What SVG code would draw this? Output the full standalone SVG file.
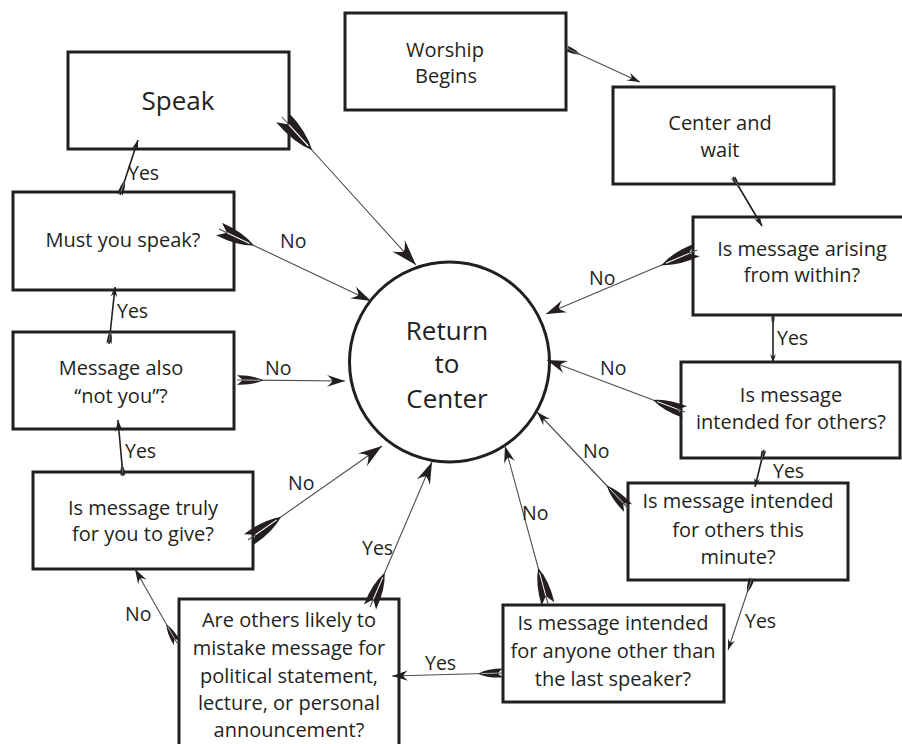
<svg xmlns="http://www.w3.org/2000/svg" xmlns:xlink="http://www.w3.org/1999/xlink" width="902" height="744" viewBox="0 0 902 744">
<style>
.box{fill:#fff;stroke:#231f20;stroke-width:3}
.t{font-family:'Open Sans','Liberation Sans',sans-serif;font-size:20px;fill:#231f20;text-anchor:middle}
.big{font-size:26px}
.lb{font-family:'Open Sans','Liberation Sans',sans-serif;font-size:19.5px;fill:#231f20}
.ln{stroke:#4d4d4d;stroke-width:1.1;fill:none}
.dk{stroke:#231f20;stroke-width:1.6}
.hd{fill:#231f20}
</style>
<defs>
<path id="hd" d="M0,0 L-20,-6.5 Q-15,-2.5 -14,0 Q-15,2.5 -20,6.5 Z"/>
<g id="fl">
<path d="M0,-5.5 L7,0 L0,5.5 Q19,6 31,0 Q19,-6 0,-5.5 Z" fill="#231f20"/>
<path d="M7,0 L27,0" stroke="#ffffff" stroke-width="0.8"/>
</g>
</defs>
<rect width="902" height="744" fill="#fff"/>

<g id="n-speak"><rect class="box" x="68" y="52" width="221" height="97"/><text class="t big" x="178" y="110">Speak</text></g>
<g id="n-worship"><rect class="box" x="345" y="13" width="221" height="97"/><text class="t" x="445" y="57">Worship</text><text class="t" x="446" y="83">Begins</text></g>
<g id="n-centerwait"><rect class="box" x="613" y="87" width="221" height="97"/><text class="t" x="720" y="130">Center and</text><text class="t" x="720" y="157">wait</text></g>
<g id="n-arising"><rect class="box" x="693" y="217" width="220" height="98"/><text class="t" x="802" y="256">Is message arising</text><text class="t" x="802" y="282">from within?</text></g>
<g id="n-others"><rect class="box" x="681" y="362" width="219" height="96"/><text class="t" x="791" y="402">Is message</text><text class="t" x="791" y="429">intended for others?</text></g>
<g id="n-minute"><rect class="box" x="628" y="483" width="220" height="97"/><text class="t" x="738" y="508">Is message intended</text><text class="t" x="738" y="537">for others this</text><text class="t" x="738" y="564">minute?</text></g>
<g id="n-anyone"><rect class="box" x="503" y="605" width="221" height="97"/><text class="t" x="613" y="630">Is message intended</text><text class="t" x="613" y="658">for anyone other than</text><text class="t" x="613" y="686">the last speaker?</text></g>
<g id="n-mistake"><rect class="box" x="179" y="599" width="220" height="160"/><text class="t" x="289" y="627">Are others likely to</text><text class="t" x="289" y="655">mistake message for</text><text class="t" x="289" y="683">political statement,</text><text class="t" x="289" y="710">lecture, or personal</text><text class="t" x="289" y="737">announcement?</text></g>
<g id="n-truly"><rect class="box" x="33" y="472" width="220" height="97"/><text class="t" x="143" y="515">Is message truly</text><text class="t" x="143" y="541">for you to give?</text></g>
<g id="n-notyou"><rect class="box" x="13" y="332" width="221" height="97"/><text class="t" x="121" y="375">Message also</text><text class="t" x="121" y="403">“not you”?</text></g>
<g id="n-must"><rect class="box" x="13" y="192" width="221" height="98"/><text class="t" x="123" y="247">Must you speak?</text></g>
<g id="n-return"><circle cx="449.5" cy="362" r="100" fill="#fff" stroke="#231f20" stroke-width="3"/><text class="t big" x="447" y="340">Return</text><text class="t big" x="447" y="373">to</text><text class="t big" x="447" y="408">Center</text></g>

<g id="connectors">
<line class="ln" x1="566" y1="48" x2="640" y2="82"/><use href="#fl" transform="translate(566,48) rotate(24.7) scale(0.5)"/><use href="#hd" class="hd" transform="translate(640,82) rotate(24.7) scale(0.65)"/>
<line class="ln dk" x1="733" y1="177" x2="762" y2="226"/><use href="#fl" transform="translate(733,177) rotate(59.4) scale(0.4)"/><use href="#hd" class="hd" transform="translate(762,226) rotate(59.4) scale(0.5)"/>
<line class="ln" x1="697" y1="250" x2="546" y2="314"/><use href="#fl" transform="translate(697,250) rotate(157) scale(1.25)"/><use href="#hd" class="hd" transform="translate(546,314) rotate(157) scale(1)"/>
<line class="ln dk" x1="773" y1="316" x2="773" y2="363"/><use href="#fl" transform="translate(773,316) rotate(90) scale(0.3)"/><use href="#hd" class="hd" transform="translate(773,363) rotate(90) scale(0.45)"/>
<line class="ln" x1="685" y1="412" x2="547" y2="360"/><use href="#fl" transform="translate(685,412) rotate(200.6) scale(1.1)"/><use href="#hd" class="hd" transform="translate(547,360) rotate(200.6) scale(1)"/>
<line class="ln dk" x1="764" y1="450" x2="755" y2="487"/><use href="#fl" transform="translate(764,450) rotate(103.7) scale(0.4)"/><use href="#hd" class="hd" transform="translate(755,487) rotate(103.7) scale(0.45)"/>
<line class="ln" x1="628" y1="508" x2="537" y2="412"/><use href="#fl" transform="translate(628,508) rotate(226.5) scale(1)"/><use href="#hd" class="hd" transform="translate(537,412) rotate(226.5) scale(0.7)"/>
<line class="ln" x1="752" y1="578" x2="728" y2="650"/><use href="#fl" transform="translate(752,578) rotate(108.4) scale(0.5)"/><use href="#hd" class="hd" transform="translate(728,650) rotate(108.4) scale(0.55)"/>
<line class="ln" x1="503" y1="673" x2="392" y2="676"/><use href="#fl" transform="translate(503,673) rotate(178.5) scale(0.8)"/><use href="#hd" class="hd" transform="translate(392,676) rotate(178.5) scale(0.8)"/>
<line class="ln" x1="548" y1="604" x2="505" y2="446"/><use href="#fl" transform="translate(548,604) rotate(254.8) scale(1.2)"/><use href="#hd" class="hd" transform="translate(505,446) rotate(254.8) scale(0.85)"/>
<line class="ln" x1="370" y1="607" x2="432" y2="462"/><use href="#fl" transform="translate(370,607) rotate(-66.8) scale(1.2)"/><use href="#hd" class="hd" transform="translate(432,462) rotate(-66.8) scale(1.1)"/>
<line class="ln" x1="177" y1="643" x2="135" y2="569"/><use href="#fl" transform="translate(177,643) rotate(240.4) scale(0.7)"/><use href="#hd" class="hd" transform="translate(135,569) rotate(240.4) scale(0.75)"/>
<line class="ln" x1="248" y1="540" x2="382" y2="446"/><use href="#fl" transform="translate(248,540) rotate(-35) scale(1.3)"/><use href="#hd" class="hd" transform="translate(382,446) rotate(-35) scale(1.2)"/>
<line class="ln dk" x1="123" y1="476" x2="118" y2="420"/><use href="#fl" transform="translate(123,476) rotate(264.9) scale(0.4)"/><use href="#hd" class="hd" transform="translate(118,420) rotate(264.9) scale(0.6)"/>
<line class="ln" x1="237" y1="380" x2="345" y2="381"/><use href="#fl" transform="translate(237,380) rotate(0.5) scale(0.85)"/><use href="#hd" class="hd" transform="translate(345,381) rotate(0.5) scale(0.9)"/>
<line class="ln dk" x1="109" y1="344" x2="115" y2="287"/><use href="#fl" transform="translate(109,344) rotate(-84) scale(0.45)"/><use href="#hd" class="hd" transform="translate(115,287) rotate(-84) scale(0.5)"/>
<line class="ln" x1="219" y1="229" x2="371" y2="301"/><use href="#fl" transform="translate(219,229) rotate(25.35) scale(1.25)"/><use href="#hd" class="hd" transform="translate(371,301) rotate(25.35) scale(1)"/>
<line class="ln dk" x1="120" y1="195" x2="138" y2="140"/><use href="#fl" transform="translate(120,195) rotate(-71.9) scale(0.5)"/><use href="#hd" class="hd" transform="translate(138,140) rotate(-71.9) scale(0.5)"/>
<line class="ln" x1="282" y1="117" x2="416" y2="265"/><use href="#fl" transform="translate(282,117) rotate(47.8) scale(1.45)"/><use href="#hd" class="hd" transform="translate(416,265) rotate(47.8) scale(1.3)"/>
</g>

<g id="labels">
<text class="lb" x="589" y="285">No</text>
<text class="lb" x="777" y="345">Yes</text>
<text class="lb" x="600" y="375">No</text>
<text class="lb" x="773" y="478">Yes</text>
<text class="lb" x="583" y="458">No</text>
<text class="lb" x="745" y="628">Yes</text>
<text class="lb" x="425" y="670">Yes</text>
<text class="lb" x="522" y="520">No</text>
<text class="lb" x="362" y="555">Yes</text>
<text class="lb" x="125" y="621">No</text>
<text class="lb" x="288" y="490">No</text>
<text class="lb" x="125" y="458">Yes</text>
<text class="lb" x="265" y="375">No</text>
<text class="lb" x="117" y="318">Yes</text>
<text class="lb" x="280" y="248">No</text>
<text class="lb" x="128" y="180">Yes</text>
</g>
</svg>
